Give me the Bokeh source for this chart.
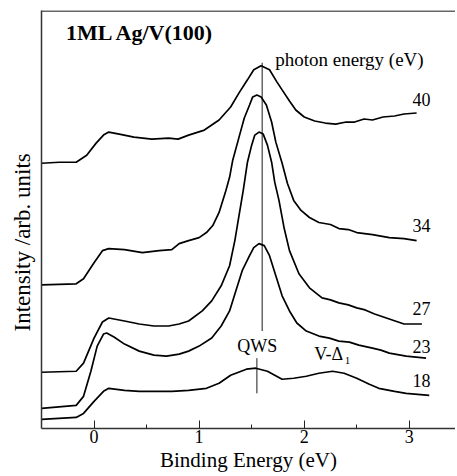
from bokeh.plotting import figure
from bokeh.models import Range1d, FixedTicker, Span, Title
from bokeh.core.properties import value
from bokeh.embed import file_html
from bokeh.resources import INLINE

# Binding energy (eV) and intensity (arb. units) for each photon energy
x40 = [-0.50, -0.33, -0.17, -0.07, 0.02, 0.09, 0.14, 0.24, 0.38, 0.55, 0.71, 0.80, 0.90, 1.05, 1.19, 1.30,
       1.38, 1.46, 1.52, 1.59, 1.67, 1.74, 1.79, 1.86, 1.92, 2.00, 2.10, 2.20, 2.30, 2.40, 2.48, 2.57,
       2.65, 2.75, 2.86, 2.95, 3.07]
y40 = [264, 265, 265, 272, 284, 292, 295, 293, 290, 288, 289, 288, 292, 297, 307, 320,
       334, 347, 357, 361, 357, 345, 337, 326, 317, 310, 306, 304, 303, 305, 305, 308,
       307, 310, 311, 313, 314]

x34 = [-0.50, -0.17, -0.10, 0.00, 0.08, 0.14, 0.29, 0.46, 0.62, 0.74, 0.81, 0.90, 1.00, 1.07, 1.13,
       1.19, 1.25, 1.29, 1.32, 1.38, 1.43, 1.48, 1.51, 1.55, 1.59, 1.64, 1.69, 1.73, 1.79, 1.84,
       1.90, 1.97, 2.05, 2.14, 2.25, 2.33, 2.42, 2.50, 2.65, 2.81, 2.95, 3.07]
y34 = [143, 144, 149, 165, 177, 179, 178, 175, 177, 178, 184, 187, 190, 195, 202,
       215, 235, 250, 267, 290, 309, 322, 330, 332, 330, 322, 305, 285, 264, 244,
       227, 217, 210, 205, 203, 199, 198, 195, 193, 190, 189, 187]

x27 = [-0.50, -0.17, -0.10, 0.00, 0.08, 0.14, 0.29, 0.43, 0.57, 0.71, 0.81, 0.90, 1.03, 1.12, 1.21,
       1.29, 1.34, 1.38, 1.42, 1.46, 1.50, 1.53, 1.57, 1.61, 1.65, 1.69, 1.72, 1.76, 1.81, 1.86,
       1.95, 2.05, 2.17, 2.25, 2.33, 2.42, 2.50, 2.58, 2.67, 2.81, 2.95, 3.12]
y27 = [56, 57, 65, 90, 106, 110, 107, 104, 102, 102, 104, 107, 117, 127, 142,
       162, 187, 212, 237, 265, 282, 292, 295, 293, 282, 265, 245, 227, 199, 177,
       154, 140, 130, 128, 125, 123, 120, 118, 114, 109, 104, 104]

x23 = [-0.50, -0.17, -0.10, -0.03, 0.03, 0.09, 0.12, 0.19, 0.29, 0.43, 0.57, 0.69, 0.81, 0.90, 1.00,
       1.12, 1.21, 1.29, 1.35, 1.41, 1.48, 1.52, 1.57, 1.62, 1.67, 1.73, 1.79, 1.86, 1.93, 2.02,
       2.14, 2.24, 2.33, 2.43, 2.52, 2.65, 2.73, 2.81, 2.97, 3.16]
y23 = [20, 23, 32, 57, 82, 94, 95, 91, 84, 77, 73, 72, 74, 77, 82,
       90, 102, 117, 137, 157, 172, 180, 184, 182, 172, 152, 132, 117, 105, 97,
       92, 90, 87, 86, 83, 80, 78, 75, 72, 70]

x18 = [-0.50, -0.17, -0.10, 0.00, 0.09, 0.14, 0.29, 0.43, 0.59, 0.74, 0.90, 1.07, 1.19, 1.30, 1.45,
       1.54, 1.65, 1.79, 1.90, 2.02, 2.14, 2.27, 2.38, 2.50, 2.62, 2.71, 2.86, 2.97, 3.19]
y18 = [9, 11, 15, 27, 37, 40, 38, 37, 37, 37, 38, 40, 45, 53, 59,
       60, 57, 49, 50, 52, 55, 57, 55, 50, 44, 40, 37, 35, 33]

curves_x = [x40, x34, x27, x23, x18]
curves_y = [y40, y34, y27, y23, y18]

# photon-energy labels
hv_labels = ["40", "34", "27", "23", "18"]
hv_label_x = [3.03, 3.03, 3.03, 3.03, 3.03]
hv_label_y = [327, 202, 119, 82, 48]

# reference lines
peak_line_x = [1.60, 1.60]
peak_line_y = [97, 364]
qws_line_x = [1.55, 1.55]
qws_line_y = [35, 70]

x_ticks = [0, 1, 2, 3]
x_minor = [0.5, 1.5, 2.5]

FONT = "Liberation Serif"

p = figure(width=455, height=474, x_range=Range1d(-0.5, 3.44), y_range=Range1d(0, 416),
           output_backend="svg", toolbar_location=None,
           min_border_left=41, min_border_right=0, min_border_top=10, min_border_bottom=0)
p.outline_line_color = None
p.grid.visible = False
p.background_fill_color = "white"
p.border_fill_color = "white"

ax = p.xaxis[0]
ax.ticker = FixedTicker(ticks=x_ticks, minor_ticks=x_minor)
ax.major_tick_in = 8
ax.major_tick_out = 0
ax.minor_tick_in = 4
ax.minor_tick_out = 0
ax.axis_line_width = 1.5
ax.axis_line_color = "#333333"
ax.major_tick_line_color = "#222222"
ax.minor_tick_line_color = "#222222"
ax.major_label_text_font = FONT
ax.major_label_text_font_size = "18px"
ax.major_label_text_color = "black"
ax.major_label_standoff = 1
ax.axis_label = "Binding Energy (eV)"
ax.axis_label_text_font = FONT
ax.axis_label_text_font_size = "21px"
ax.axis_label_text_font_style = "normal"
ax.axis_label_text_color = "black"
ax.axis_label_standoff = 2

ay = p.yaxis[0]
ay.ticker = FixedTicker(ticks=[])
ay.axis_line_width = 1.5
ay.axis_line_color = "#333333"
ay.major_tick_line_color = None
ay.minor_tick_line_color = None

p.add_layout(Title(text="Intensity /arb. units", text_font=FONT, text_font_size="23px",
                   text_font_style="normal", text_color="black", align="left",
                   offset=97, standoff=14), "left")

p.add_layout(Span(location=415.5, dimension="width", line_color="#333333", line_width=1.5))

for xs, ys in zip(curves_x, curves_y):
    p.line(xs, ys, line_color="black", line_width=1.7)

p.line(peak_line_x, peak_line_y, line_color="black", line_width=0.9)
p.line(qws_line_x, qws_line_y, line_color="black", line_width=0.9)

p.text(x=hv_label_x, y=hv_label_y, text=hv_labels, text_font=value(FONT),
       text_font_size="18px", text_baseline="middle", text_align="left", text_color="black")

p.text(x=[-0.267], y=[394], text=["1ML Ag/V(100)"], text_font=value(FONT),
       text_font_size="22px", text_font_style="bold", text_baseline="middle",
       text_align="left", text_color="black")
p.text(x=[1.724], y=[367], text=["photon energy (eV)"], text_font=value(FONT),
       text_font_size="19px", text_baseline="middle", text_align="left", text_color="black")
p.text(x=[1.362], y=[82], text=["QWS"], text_font=value(FONT),
       text_font_size="18px", text_baseline="middle", text_align="left", text_color="black")
p.text(x=[2.095], y=[74], text=["V-Δ"], text_font=value(FONT),
       text_font_size="18px", text_baseline="middle", text_align="left", text_color="black")
p.text(x=[2.385], y=[68], text=["1"], text_font=value(FONT),
       text_font_size="11px", text_baseline="middle", text_align="left", text_color="black")

open("out.html", "w").write(file_html(p, INLINE))
